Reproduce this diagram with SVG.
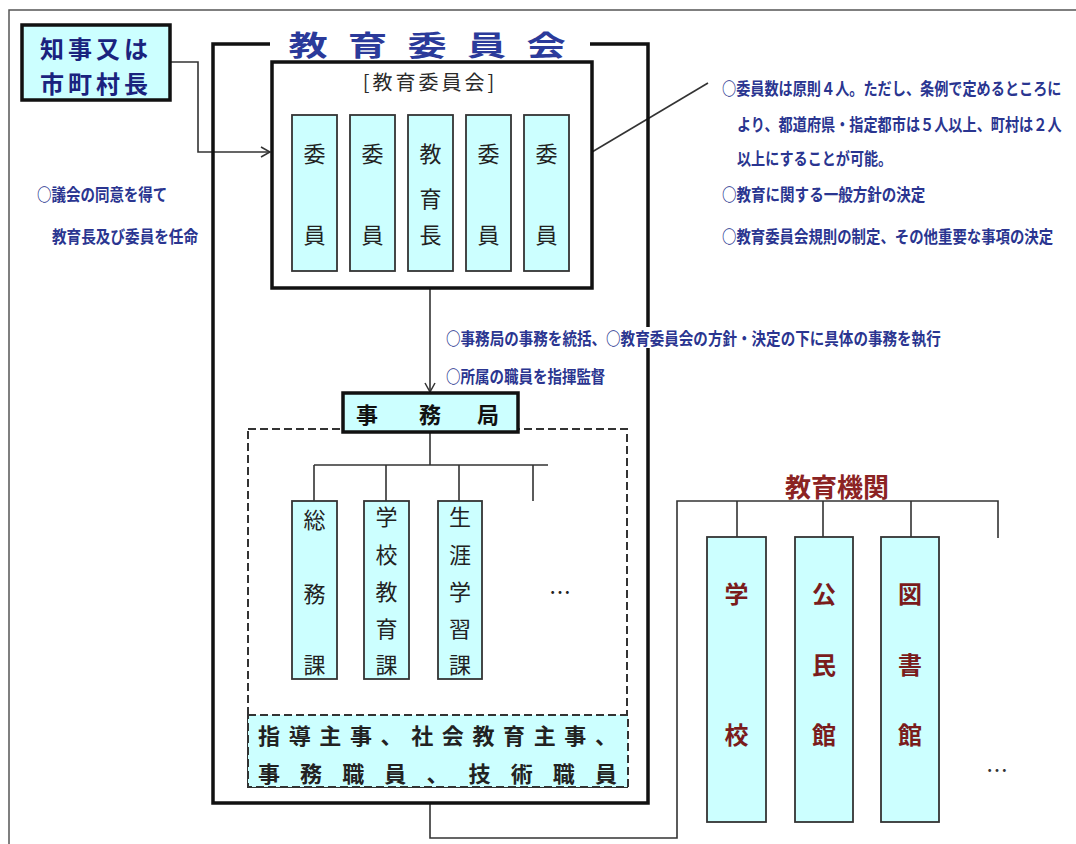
<svg xmlns="http://www.w3.org/2000/svg" width="1076" height="844" viewBox="0 0 1076 844">
<style>
text{font-family:"Noto Sans CJK JP","Noto Sans CJK SC",sans-serif;dominant-baseline:central}
.box{fill:#ccffff;stroke:#333;stroke-width:1.8}
.thick{fill:#ccffff;stroke:#111;stroke-width:3.5}
.frame{fill:none;stroke:#111;stroke-width:3.5}
.ln{fill:none;stroke:#333;stroke-width:1.6}
.mem{font-size:22px;fill:#222;text-anchor:middle}
.org{font-size:24px;fill:#7a1c1c;text-anchor:middle;font-weight:bold}
.note{font-size:17px;fill:#2a3590;font-weight:bold}
</style>
<defs>
<marker id="arr" markerUnits="userSpaceOnUse" markerWidth="12" markerHeight="12" refX="10" refY="6" orient="auto">
<path d="M1,1 L10,6 L1,11" fill="none" stroke="#333" stroke-width="1.5"/>
</marker>
</defs>
<path d="M9,844 V10 H1076" fill="none" stroke="#555" stroke-width="1.5"/>

<g id="connectors">
<path class="ln" d="M170,62 H198 V152 H270" marker-end="url(#arr)"/>
<path class="ln" d="M430,271 V392" marker-end="url(#arr)"/>
<path class="ln" d="M430,432 V465 M314,465 H548 M314,465 V501 M386,465 V501 M459,465 V501 M533,465 V501"/>
<path class="ln" d="M430,803 V838 H677 V501 H998 V538 M737,501 V537 M823,501 V537 M911,501 V537"/>
<path class="ln" d="M592,152 L708,83" stroke-width="1.2"/>
</g>

<g id="chiji">
<rect class="thick" x="22" y="25" width="148" height="75"/>
<text x="96" y="47" font-size="24" font-weight="bold" fill="#1a237e" text-anchor="middle" letter-spacing="4">知事又は</text>
<text x="96" y="82" font-size="24" font-weight="bold" fill="#1a237e" text-anchor="middle" letter-spacing="4">市町村長</text>
</g>

<g id="kyouikuiinkai-frame">
<path class="frame" d="M270,44 H213 V803 H648 V44 H590"/>
<text transform="translate(0,44) scale(1.4,1)" x="220 262.5 305 347.5 390" y="0" font-size="28" font-weight="bold" fill="#2b3a9a" text-anchor="middle">教育委員会</text>
</g>

<g id="iinkai">
<rect x="272" y="62" width="320" height="226" fill="#fff" stroke="#111" stroke-width="3.5"/>
<text x="430" y="81" font-size="20" fill="#2a2a2a" text-anchor="middle" letter-spacing="3">[教育委員会]</text>
</g>

<g id="member1"><rect class="box" x="292" y="115" width="45" height="156"/><text class="mem" x="314.5" y="152">委</text><text class="mem" x="314.5" y="233">員</text></g>
<g id="member2"><rect class="box" x="350" y="115" width="45" height="156"/><text class="mem" x="372.5" y="152">委</text><text class="mem" x="372.5" y="233">員</text></g>
<g id="kyouikuchou"><rect class="box" x="408" y="115" width="45" height="156"/><text class="mem" x="430.5" y="152">教</text><text class="mem" x="430.5" y="197">育</text><text class="mem" x="430.5" y="233">長</text></g>
<g id="member3"><rect class="box" x="466" y="115" width="45" height="156"/><text class="mem" x="488.5" y="152">委</text><text class="mem" x="488.5" y="233">員</text></g>
<g id="member4"><rect class="box" x="524" y="115" width="45" height="156"/><text class="mem" x="546.5" y="152">委</text><text class="mem" x="546.5" y="233">員</text></g>

<g id="note-right">
<text class="note" transform="translate(722,87) scale(0.83,1)" textLength="409" lengthAdjust="spacingAndGlyphs">○委員数は原則４人。ただし、条例で定めるところに</text>
<text class="note" transform="translate(737,123) scale(0.83,1)" textLength="391" lengthAdjust="spacingAndGlyphs">より、都道府県・指定都市は５人以上、町村は２人</text>
<text class="note" transform="translate(737,157) scale(0.83,1)" textLength="187" lengthAdjust="spacingAndGlyphs">以上にすることが可能。</text>
<text class="note" transform="translate(722,193) scale(0.83,1)" textLength="245" lengthAdjust="spacingAndGlyphs">○教育に関する一般方針の決定</text>
<text class="note" transform="translate(722,235) scale(0.83,1)" textLength="399" lengthAdjust="spacingAndGlyphs">○教育委員会規則の制定、その他重要な事項の決定</text>
</g>

<g id="note-left">
<text class="note" transform="translate(37,193) scale(0.83,1)" textLength="157" lengthAdjust="spacingAndGlyphs">○議会の同意を得て</text>
<text class="note" transform="translate(52,235) scale(0.83,1)" textLength="176" lengthAdjust="spacingAndGlyphs">教育長及び委員を任命</text>
</g>

<g id="note-mid">
<rect x="440" y="327" width="505" height="21" fill="#fff"/>
<text class="note" transform="translate(446,337) scale(0.83,1)" textLength="596" lengthAdjust="spacingAndGlyphs">○事務局の事務を統括、○教育委員会の方針・決定の下に具体の事務を執行</text>
<text class="note" transform="translate(446,375) scale(0.83,1)" textLength="192" lengthAdjust="spacingAndGlyphs">○所属の職員を指揮監督</text>
</g>

<g id="jimukyoku-area">
<rect x="248" y="429" width="379" height="358" fill="none" stroke="#333" stroke-width="2" stroke-dasharray="8,4"/>
</g>

<g id="jimukyoku">
<rect class="thick" x="343" y="393" width="175" height="39"/>
<text x="367" y="413" font-size="22" font-weight="bold" fill="#111" text-anchor="middle">事</text>
<text x="430" y="413" font-size="22" font-weight="bold" fill="#111" text-anchor="middle">務</text>
<text x="488" y="413" font-size="22" font-weight="bold" fill="#111" text-anchor="middle">局</text>
</g>

<g id="soumuka"><rect class="box" x="292" y="501" width="45" height="178"/><text class="mem" x="314.5" y="518">総</text><text class="mem" x="314.5" y="592">務</text><text class="mem" x="314.5" y="663">課</text></g>
<g id="gakkoukyouikuka"><rect class="box" x="364" y="501" width="45" height="178"/><text class="mem" x="386.5" y="515">学</text><text class="mem" x="386.5" y="553">校</text><text class="mem" x="386.5" y="590">教</text><text class="mem" x="386.5" y="627">育</text><text class="mem" x="386.5" y="663">課</text></g>
<g id="shougaigakushuuka"><rect class="box" x="438" y="501" width="44" height="178"/><text class="mem" x="460" y="515">生</text><text class="mem" x="460" y="553">涯</text><text class="mem" x="460" y="590">学</text><text class="mem" x="460" y="627">習</text><text class="mem" x="460" y="663">課</text></g>
<g id="ka-etc"><text class="mem" x="560" y="590" fill="#333">…</text></g>

<g id="staff">
<rect x="248" y="715" width="380" height="72" fill="#ccffff" stroke="#333" stroke-width="2" stroke-dasharray="8,4"/>
<text x="258" y="734" font-size="22" font-weight="bold" fill="#222" textLength="359" lengthAdjust="spacing">指導主事、社会教育主事、</text>
<text x="258" y="772" font-size="22" font-weight="bold" fill="#222" textLength="359" lengthAdjust="spacing">事務職員、技術職員</text>
</g>

<g id="kyouikukikan-title">
<text x="837" y="485" font-size="26" font-weight="bold" fill="#8b2323" text-anchor="middle">教育機関</text>
</g>
<g id="gakkou"><rect class="box" x="707" y="537" width="59" height="285"/><text class="org" x="736.5" y="592">学</text><text class="org" x="736.5" y="733">校</text></g>
<g id="kouminkan"><rect class="box" x="795" y="537" width="58" height="285"/><text class="org" x="824" y="592">公</text><text class="org" x="824" y="663">民</text><text class="org" x="824" y="733">館</text></g>
<g id="toshokan"><rect class="box" x="881" y="537" width="58" height="285"/><text class="org" x="910" y="592">図</text><text class="org" x="910" y="663">書</text><text class="org" x="910" y="733">館</text></g>
<g id="kikan-etc"><text x="997" y="768" font-size="22" fill="#333" text-anchor="middle">…</text></g>
</svg>
